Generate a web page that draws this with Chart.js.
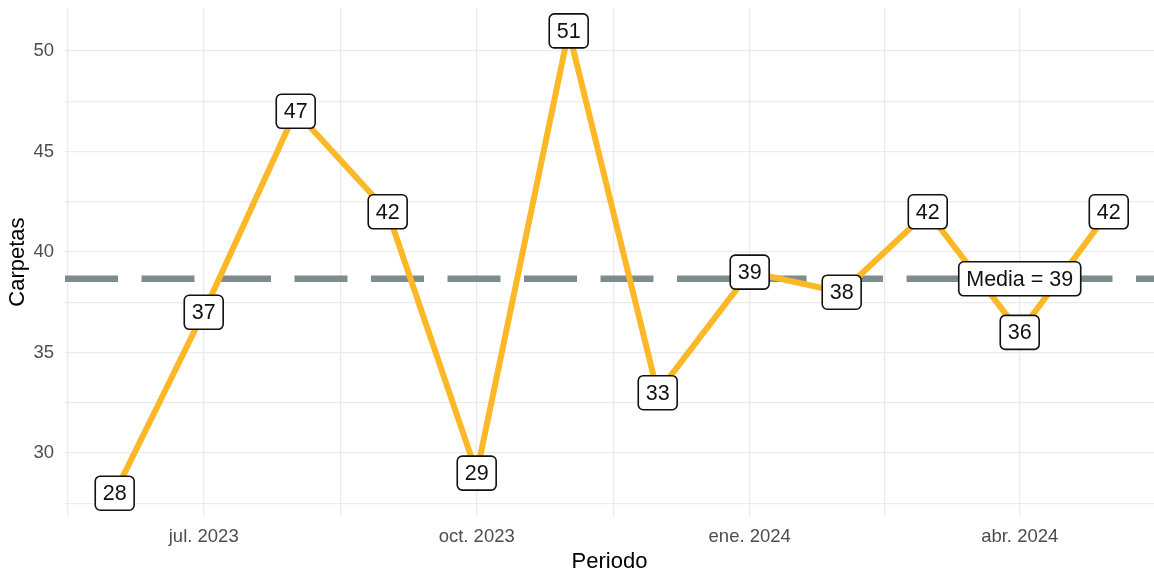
<!DOCTYPE html>
<html>
<head>
<meta charset="utf-8">
<script src="https://cdn.jsdelivr.net/npm/chart.js@4.4.1/dist/chart.umd.min.js"></script>
<style>
  html, body { margin: 0; padding: 0; background: #ffffff; }
  #wrap { width: 1154px; height: 575px; position: relative; }
</style>
</head>
<body>
<div id="wrap"><canvas id="c" width="1154" height="575"></canvas></div>
<script>
// ---- Data ----
const months = ['2023-06','2023-07','2023-08','2023-09','2023-10','2023-11',
                '2023-12','2024-01','2024-02','2024-03','2024-04','2024-05'];
const carpetas = [28, 37, 47, 42, 29, 51, 33, 39, 38, 42, 36, 42];
const xTickMonths = ['2023-07','2023-10','2024-01','2024-04'];
const xTickLabels = ['jul. 2023','oct. 2023','ene. 2024','abr. 2024'];
const yMajor = [30, 35, 40, 45, 50];
const yMinor = [27.5, 32.5, 37.5, 42.5, 47.5];

// ---- Helpers ----
const DAY = 86400000;
function dayOf(s) {
  const p = s.split('-').map(Number);
  const base = Date.UTC(2023, 5, 1);
  return (Date.UTC(p[0], p[1] - 1, p[2] || 1) - base) / DAY;
}
const xs = months.map(dayOf);
const points = xs.map((x, i) => ({ x: x, y: carpetas[i] }));
const mean = carpetas.reduce((a, b) => a + b, 0) / carpetas.length;
const xRange = xs[xs.length - 1] - xs[0];
const xMin = xs[0] - 0.05 * xRange;
const xMax = xs[xs.length - 1] + 0.05 * xRange - 1.5;  // plot is clipped at the right edge
const yLo = Math.min(...carpetas), yHi = Math.max(...carpetas);
const yMin = yLo - 0.05 * (yHi - yLo);
const yMax = yHi + 0.05 * (yHi - yLo);
const xMajorVals = xTickMonths.map(dayOf);
// minor breaks: midpoints between majors, extended one step to each side
const xMinorVals = [];
for (let i = 0; i < xMajorVals.length - 1; i++) xMinorVals.push((xMajorVals[i] + xMajorVals[i + 1]) / 2);
xMinorVals.unshift(xMajorVals[0] - (xMajorVals[1] - xMajorVals[0]) / 2);
const meanLabelX = dayOf('2024-04');

const LABEL_FONT = '21.5px "Liberation Sans", Arial, sans-serif';

function drawBox(ctx, cx, cy, text) {
  ctx.save();
  ctx.font = LABEL_FONT;
  const tw = ctx.measureText(text).width;
  const w = tw + 15, h = 34, r = 5;
  const x = cx - w / 2, y = cy - h / 2;
  ctx.beginPath();
  ctx.moveTo(x + r, y);
  ctx.lineTo(x + w - r, y);
  ctx.arcTo(x + w, y, x + w, y + r, r);
  ctx.lineTo(x + w, y + h - r);
  ctx.arcTo(x + w, y + h, x + w - r, y + h, r);
  ctx.lineTo(x + r, y + h);
  ctx.arcTo(x, y + h, x, y + h - r, r);
  ctx.lineTo(x, y + r);
  ctx.arcTo(x, y, x + r, y, r);
  ctx.closePath();
  ctx.fillStyle = '#ffffff';
  ctx.fill();
  ctx.lineWidth = 1.6;
  ctx.strokeStyle = '#111111';
  ctx.stroke();
  ctx.fillStyle = '#111111';
  ctx.textAlign = 'center';
  ctx.textBaseline = 'middle';
  ctx.fillText(text, cx, cy + 1);
  ctx.restore();
}

const labelPlugin = {
  id: 'boxLabels',
  afterDatasetsDraw(chart) {
    const ctx = chart.ctx;
    const meta = chart.getDatasetMeta(0);
    meta.data.forEach((pt, i) => {
      drawBox(ctx, pt.x, pt.y, String(carpetas[i]));
    });
    const sx = chart.scales.x, sy = chart.scales.y;
    drawBox(ctx, sx.getPixelForValue(meanLabelX), sy.getPixelForValue(mean),
            'Media = ' + Math.round(mean));
  }
};

const gridColor = '#EBEBEB';
function zeroPad(scale) {
  scale.paddingTop = 0; scale.paddingBottom = 0;
  scale.paddingLeft = 0; scale.paddingRight = 0;
}

new Chart(document.getElementById('c'), {
  type: 'line',
  data: {
    datasets: [
      {
        data: points,
        borderColor: '#FCB826',
        borderWidth: 6,
        pointRadius: 0,
        tension: 0,
        borderJoinStyle: 'round',
        borderCapStyle: 'round',
        order: 1
      },
      {
        data: [{ x: xMin, y: mean }, { x: xMax, y: mean }],
        borderColor: '#7F8C8D',
        borderWidth: 6.5,
        borderDash: [53, 23.5],
        pointRadius: 0,
        order: 2
      }
    ]
  },
  options: {
    responsive: false,
    animation: false,
    layout: { padding: { top: 7.8, right: 0, left: 0, bottom: 0 } },
    plugins: { legend: { display: false }, tooltip: { enabled: false } },
    scales: {
      x: {
        type: 'linear',
        min: xMin,
        max: xMax,
        afterBuildTicks(scale) {
          scale.ticks = xMinorVals.concat(xMajorVals).sort((a, b) => a - b).map(v => ({ value: v }));
        },
        afterFit(scale) { scale.height = 58.7; zeroPad(scale); },
        grid: { color: gridColor, lineWidth: 1.3, drawTicks: false },
        border: { display: false },
        ticks: {
          padding: 10,
          color: '#4D4D4D',
          font: { family: '"Liberation Sans", Arial, sans-serif', size: 18.5 },
          maxRotation: 0,
          autoSkip: false,
          callback(v) {
            const k = xMajorVals.indexOf(v);
            return k >= 0 ? xTickLabels[k] : '';
          }
        },
        title: {
          display: true,
          text: 'Periodo',
          color: '#000000',
          font: { family: '"Liberation Sans", Arial, sans-serif', size: 22 },
          padding: { top: 0, bottom: 0 }
        }
      },
      y: {
        type: 'linear',
        min: yMin,
        max: yMax,
        afterBuildTicks(scale) {
          scale.ticks = yMinor.concat(yMajor).sort((a, b) => a - b).map(v => ({ value: v }));
        },
        afterFit(scale) { scale.width = 65; zeroPad(scale); },
        grid: { color: gridColor, lineWidth: 1.3, drawTicks: false },
        border: { display: false },
        ticks: {
          padding: 11,
          color: '#4D4D4D',
          font: { family: '"Liberation Sans", Arial, sans-serif', size: 18.5 },
          autoSkip: false,
          callback(v) { return yMajor.indexOf(v) >= 0 ? String(v) : ''; }
        },
        title: {
          display: true,
          text: 'Carpetas',
          color: '#000000',
          font: { family: '"Liberation Sans", Arial, sans-serif', size: 22 },
          padding: { top: 5, bottom: 0 }
        }
      }
    }
  },
  plugins: [labelPlugin]
});
</script>
</body>
</html>
